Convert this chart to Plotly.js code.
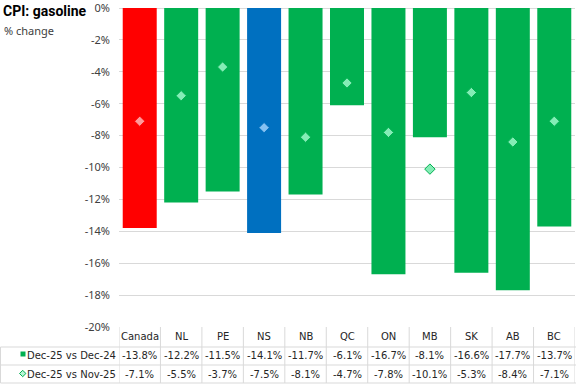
<!DOCTYPE html>
<html>
<head>
<meta charset="utf-8">
<script src="https://cdn.plot.ly/plotly-3.0.1.min.js"></script>
<style>html,body{margin:0;padding:0;background:#fff}#chart{width:577px;height:385px}</style>
</head>
<body>
<div id="chart"></div>
<script>
// ---- data ----
const categories = ["Canada","NL","PE","NS","NB","QC","ON","MB","SK","AB","BC"];
const yearOverYear = [-13.8,-12.2,-11.5,-14.1,-11.7,-6.1,-16.7,-8.1,-16.6,-17.7,-13.7];
const monthOverMonth = [-7.1,-5.5,-3.7,-7.5,-8.1,-4.7,-7.8,-10.1,-5.3,-8.4,-7.1];
const seriesNames = ["Dec-25 vs Dec-24","Dec-25 vs Nov-25"];
const yTickVals = [0,-2,-4,-6,-8,-10,-12,-14,-16,-18,-20];
const yTickLabels = ["0%","-2%","-4%","-6%","-8%","-10%","-12%","-14%","-16%","-18%","-20%"];
const titleText = "CPI: gasoline";
const subtitleText = "% change";

// ---- styling ----
const GREEN = "#00B050", RED = "#FF0000", BLUE = "#0070C0";
const barColor = c => c === "Canada" ? RED : (c === "NS" ? BLUE : GREEN);
const markFill = c => c === "Canada" ? "#FF9A9A" : (c === "NS" ? "#86C2F2" : "#84EDB6");
const GRID = "#D9D9D9";
const TXT = "#262626";
const FONT = "DejaVu Sans, Verdana, sans-serif";

// pixel helpers (plot area: left 119, width 456, top 8, height 319)
const L = 119, W = 456, T = 8, H = 319;
const fx = px => (px - L) / W;
const fy = py => (T + H - py) / H;

const traces = [
  {
    type: "bar", x: categories, y: yearOverYear, name: seriesNames[0],
    marker: {color: categories.map(barColor)}, hoverinfo: "x+y"
  },
  {
    type: "scatter", mode: "markers", x: categories, y: monthOverMonth, name: seriesNames[1],
    marker: {symbol: "diamond", size: 8, color: categories.map(markFill),
             line: {color: categories.map(barColor), width: 1}}
  }
];

const annotations = [];
const shapes = [];

// subtitle
annotations.push({xref:"paper", yref:"paper", x: fx(2), y: fy(30), xanchor:"left", yanchor:"middle",
  text: subtitleText, showarrow:false, font:{family:"Noto Sans, sans-serif", size:11, color:"#404040"}});

// table header & values
const rowY = [336.5, 355.5, 374];
const tfont = {family:FONT, size:10, color:TXT};
categories.forEach((c, i) => {
  annotations.push({xref:"x", yref:"paper", x: c, y: fy(rowY[0]), text: c, showarrow:false,
    xanchor:"center", yanchor:"middle", font:tfont});
  annotations.push({xref:"x", yref:"paper", x: c, y: fy(rowY[1]), text: yearOverYear[i].toFixed(1) + "%", showarrow:false,
    xanchor:"center", yanchor:"middle", font:tfont});
  annotations.push({xref:"x", yref:"paper", x: c, y: fy(rowY[2]), text: monthOverMonth[i].toFixed(1) + "%", showarrow:false,
    xanchor:"center", yanchor:"middle", font:tfont});
});
seriesNames.forEach((n, k) => {
  annotations.push({xref:"paper", yref:"paper", x: fx(25), y: fy(rowY[k+1]), text: n, showarrow:false,
    xanchor:"left", yanchor:"middle", font:tfont});
});

// table grid lines
const lineStyle = {color: GRID, width: 1};
[347, 365, 383].forEach(py => {
  shapes.push({type:"line", xref:"paper", yref:"paper", x0: fx(0.5), x1: fx(576), y0: fy(py), y1: fy(py), line: lineStyle, layer:"below"});
});
for (let i = 0; i <= categories.length; i++) {
  shapes.push({type:"line", xref:"x", yref:"paper", x0: i - 0.5, x1: i - 0.5, y0: fy(327), y1: fy(383), line: lineStyle, layer:"below"});
}
shapes.push({type:"line", xref:"paper", yref:"paper", x0: fx(0.5), x1: fx(0.5), y0: fy(347), y1: fy(383), line: lineStyle});

// legend keys in table
shapes.push({type:"rect", xref:"paper", yref:"paper", x0: fx(20.5), x1: fx(25.5), y0: fy(351.5), y1: fy(356.5),
  fillcolor: GREEN, line:{width:0}});
const dcx = 22.7, dcy = 373.5, dr = 3.2;
shapes.push({type:"path", xref:"paper", yref:"paper",
  path: `M ${fx(dcx)},${fy(dcy-dr)} L ${fx(dcx+dr)},${fy(dcy)} L ${fx(dcx)},${fy(dcy+dr)} L ${fx(dcx-dr)},${fy(dcy)} Z`,
  fillcolor: "#B8F3D4", line:{color: GREEN, width: 1}});

const layout = {
  width: 577, height: 385,
  margin: {l: L, r: 577 - L - W, t: T, b: 385 - T - H, pad: 0},
  paper_bgcolor: "#fff", plot_bgcolor: "#fff",
  showlegend: false,
  bargap: 0.18,
  title: {text: "<b>" + titleText + "</b>", x: 3/577, xref: "container", xanchor: "left",
          y: 1 - 6/385, yref: "container", yanchor: "top",
          font: {family: "Roboto, sans-serif", size: 14, color: "#000"}},
  xaxis: {type: "category", range: [-0.5, categories.length - 0.5], showticklabels: false,
          showgrid: false, zeroline: false, showline: false, ticks: ""},
  yaxis: {range: [-20, 0], tickvals: yTickVals, ticktext: yTickLabels, showgrid: true,
          gridcolor: GRID, gridwidth: 1, zeroline: true, zerolinecolor: GRID, zerolinewidth: 1,
          showline: false, ticks: "", ticklabelstandoff: 8, ticklabeloverflow: "allow",
          tickfont: {family: "Noto Sans, sans-serif", size: 11, color: "#404040"}},
  annotations: annotations,
  shapes: shapes,
  font: {family: FONT}
};

Plotly.newPlot("chart", traces, layout, {displayModeBar: false, staticPlot: true});
</script>
</body>
</html>
